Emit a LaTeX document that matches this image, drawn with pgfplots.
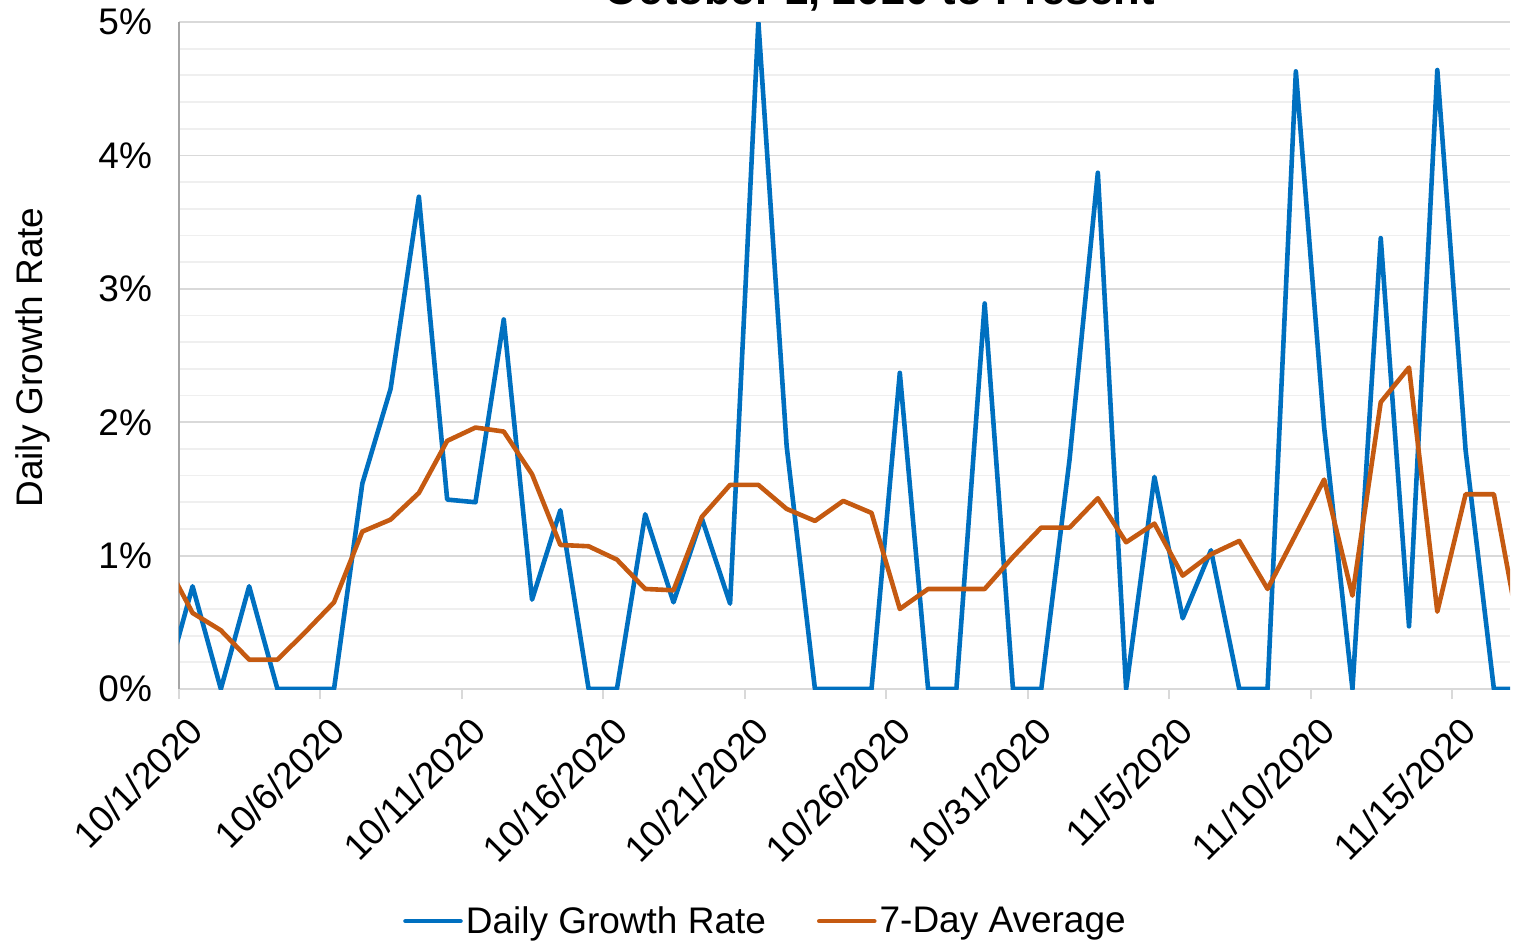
\documentclass[border=0pt]{standalone}
\usepackage{fontspec}
\setmainfont{Liberation Sans}
\usepackage{pgfplots}
\pgfplotsset{compat=1.18}
\usepackage{pgfplotstable}

\definecolor{dailyblue}{HTML}{0070C0}
\definecolor{avgorange}{HTML}{C55A11}
\definecolor{gridmajor}{HTML}{D9D9D9}
\definecolor{gridminor}{HTML}{EFEFEF}
\definecolor{axisgray}{HTML}{A6A6A6}

% daily growth rate and 7-day average, in percent (k = days after 10/1/2020)
\pgfplotstableread{
k  daily avg
-1 0.00 0.97
0  0.77 0.57
1  0.00 0.44
2  0.77 0.22
3  0.00 0.22
4  0.00 0.43
5  0.00 0.65
6  1.54 1.18
7  2.25 1.27
8  3.69 1.47
9  1.42 1.86
10 1.40 1.96
11 2.77 1.93
12 0.67 1.61
13 1.34 1.08
14 0.00 1.07
15 0.00 0.97
16 1.31 0.75
17 0.65 0.74
18 1.28 1.29
19 0.64 1.53
20 5.00 1.53
21 1.82 1.35
22 0.00 1.26
23 0.00 1.41
24 0.00 1.32
25 2.37 0.60
26 0.00 0.75
27 0.00 0.75
28 2.89 0.75
29 0.00 0.99
30 0.00 1.21
31 1.72 1.21
32 3.87 1.43
33 0.00 1.10
34 1.59 1.24
35 0.53 0.85
36 1.04 1.01
37 0.00 1.11
38 0.00 0.75
39 4.63 1.16
40 1.96 1.57
41 0.00 0.70
42 3.38 2.15
43 0.47 2.41
44 4.64 0.58
45 1.79 1.46
46 0.00 1.46
47 0.00 0.31
}\growth

\newcommand{\lblfont}{\fontsize{18.5}{22}\selectfont}

\begin{document}
\begin{tikzpicture}
\begin{axis}[
    at={(0pt,0pt)}, anchor=south west,
    width=665.5pt, height=333.5pt, scale only axis,
    xmin=0, xmax=47.05, ymin=0, ymax=5,
    axis lines=left,
    x axis line style={-, draw=gridmajor, line width=1pt},
    y axis line style={-, draw=axisgray, line width=1pt},
    xtick={0,5,...,45},
    xticklabels={10/1/2020,10/6/2020,10/11/2020,10/16/2020,10/21/2020,
                 10/26/2020,10/31/2020,11/5/2020,11/10/2020,11/15/2020},
    xticklabel style={rotate=45, anchor=east, font=\lblfont, xshift=0.6pt, yshift=-15pt},
    ytick={0,1,...,5},
    yticklabel={\pgfmathprintnumber{\tick}\%},
    yticklabel style={font=\lblfont, xshift=-5pt},
    /pgf/number format/assume math mode=true,
    minor y tick num=4,
    ymajorgrids, yminorgrids,
    major grid style={draw=gridmajor, line width=0.9pt},
    minor grid style={draw=gridminor, line width=0.9pt},
    tick align=outside,
    major tick length=5pt,
    xtick style={draw=gridmajor, line width=1pt},
    ytick style={draw=none},
    minor tick style={draw=none},
    ylabel={Daily Growth Rate},
    ylabel style={at={(axis description cs:-0.110,0.497)}, anchor=center, font=\lblfont},
    legend columns=2,
    legend style={at={(0.441,-0.348)}, anchor=center, draw=none, fill=none,
                  font=\lblfont, nodes={inner sep=1.5pt},
                  /tikz/every even column/.append style={column sep=24pt}},
    legend image code/.code={\draw[#1] (0pt,0pt) -- (27.5pt,0pt);},
]
\addplot[dailyblue, line width=2.3pt, line join=round, line cap=round]
    table[x expr=\thisrow{k}+0.48, y=daily] {\growth};
\addlegendentry{Daily Growth Rate}
\addplot[avgorange, line width=2.3pt, line join=round, line cap=round]
    table[x expr=\thisrow{k}+0.48, y=avg] {\growth};
\addlegendentry{7-Day Average}
\end{axis}
\node[font=\bfseries\fontsize{21.8}{26}\selectfont, anchor=base] at (350.5pt,342pt)
    {October 1, 2020 to Present};
\pgfresetboundingbox
\path[use as bounding box] (-89.5pt,-129.5pt) rectangle (668pt,344.5pt);
\end{tikzpicture}
\end{document}
